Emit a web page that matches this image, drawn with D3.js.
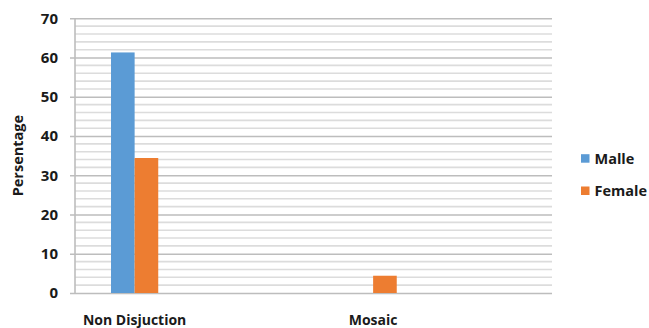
<!DOCTYPE html>
<html>
<head>
<meta charset="utf-8">
<script src="https://cdn.jsdelivr.net/npm/d3@7"></script>
<style>
  html, body { margin: 0; padding: 0; background: #fff; }
  svg text { font-family: "Open Sans", "DejaVu Sans", sans-serif; font-weight: bold; fill: #1a1a1a; }
</style>
</head>
<body>
<svg id="chart" width="649" height="328"></svg>
<script>
// Category slots along the x axis (alternate slots carry no label)
const categories = ["Non Disjuction", "", "Mosaic", ""];
const seriesNames = ["Malle", "Female"];
const malleValues = [61.3, 0, 0, 0];
const femaleValues = [34.4, 0, 4.4, 0];
const yTicks = [0, 10, 20, 30, 40, 50, 60, 70];
const colors = ["#5b9bd5", "#ed7d31"];

const svg = d3.select("#chart");
const margin = { left: 75, right: 97, top: 18.3, bottom: 35 };
const W = 649, H = 328;
const plotW = W - margin.left - margin.right;
const plotH = H - margin.top - margin.bottom;

const x = d3.scaleBand().domain(d3.range(categories.length)).range([margin.left, margin.left + plotW]);
const y = d3.scaleLinear().domain([0, 70]).range([margin.top + plotH, margin.top]);

// Minor gridlines every 2 units
const minor = d3.range(0, 71, 2).filter(v => v % 10 !== 0);
svg.append("g").selectAll("line").data(minor).join("line")
  .attr("x1", margin.left).attr("x2", margin.left + plotW)
  .attr("y1", d => y(d)).attr("y2", d => y(d))
  .attr("stroke", "#dcdcdc").attr("stroke-width", 1.6);

// Major gridlines with axis ticks
const yAxis = d3.axisLeft(y).tickValues(yTicks).tickSize(plotW).tickPadding(12).tickFormat(d3.format("d"));
const gy = svg.append("g").attr("transform", `translate(${margin.left + plotW},0)`).call(yAxis);
gy.select(".domain").remove();
gy.selectAll(".tick line").attr("stroke", "#bdbdbd").attr("stroke-width", 1.6)
  .attr("x1", 0).attr("x2", -plotW - 5);
gy.selectAll(".tick text").attr("x", -plotW - 17).attr("font-size", 15).attr("fill", "#1a1a1a");

// Left axis line
svg.append("line").attr("x1", margin.left).attr("x2", margin.left)
  .attr("y1", y(70)).attr("y2", y(0)).attr("stroke", "#bdbdbd").attr("stroke-width", 1.6);

// Bars
const inner = d3.scaleBand().domain([0, 1]).range([0, x.bandwidth()]).paddingInner(0).paddingOuter(1.525);
const series = [malleValues, femaleValues];
series.forEach((vals, s) => {
  svg.append("g").selectAll("rect").data(vals).join("rect")
    .attr("x", (d, i) => x(i) + inner(s))
    .attr("width", inner.bandwidth())
    .attr("y", d => y(d))
    .attr("height", d => y(0) - y(d))
    .attr("fill", colors[s]);
});

// Category labels
const xAxis = d3.axisBottom(x).tickSize(0).tickPadding(22).tickFormat(i => categories[i]);
const gx = svg.append("g").attr("transform", `translate(0,${y(0)})`).call(xAxis);
gx.select(".domain").remove();
gx.selectAll(".tick text").attr("font-size", 14).attr("fill", "#1a1a1a");

// Y axis title
svg.append("text").attr("transform", `translate(23,${(y(0) + y(70)) / 2}) rotate(-90)`)
  .attr("text-anchor", "middle").attr("font-size", 14.5).text("Persentage");

// Legend
const legend = svg.append("g").attr("transform", "translate(581,0)");
seriesNames.forEach((n, i) => {
  const cy = 158.7 + i * 32.3;
  legend.append("rect").attr("x", 0).attr("y", cy - 4.5).attr("width", 8.5).attr("height", 8.5).attr("fill", colors[i]);
  legend.append("text").attr("x", 13.5).attr("y", cy + 5.2).attr("font-size", 14.5).text(n);
});
</script>
</body>
</html>
